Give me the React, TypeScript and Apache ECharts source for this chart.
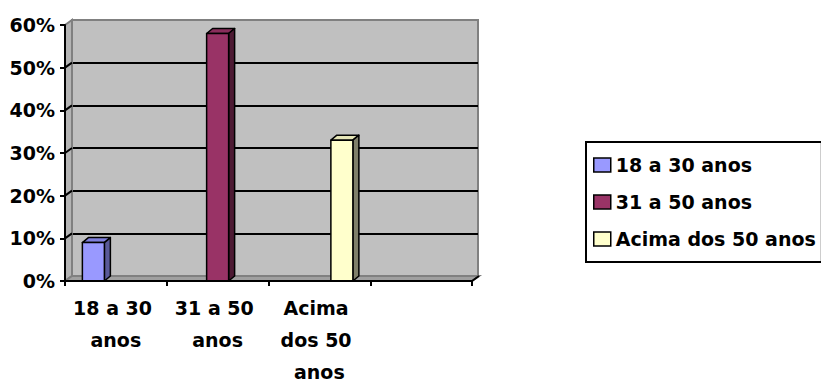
import React, { useEffect, useRef } from "react";
import * as echarts from "echarts";

const categories = ["18 a 30 anos", "31 a 50 anos", "Acima dos 50 anos", ""];
const seriesNames = ["18 a 30 anos", "31 a 50 anos", "Acima dos 50 anos"];
const seriesValues = [0.09, 0.58, 0.33];
const frontColors = ["#9999FF", "#993366", "#FFFFCC"];
const topColors = ["#8080DD", "#8A2E5C", "#E6E6B8"];
const sideColors = ["#5A5A99", "#4D1A33", "#80806A"];
const yTicks = [0, 0.1, 0.2, 0.3, 0.4, 0.5, 0.6];

const FONT = "DejaVu Sans";
const BAR_W = 22;
const BAR_STEP = 22.5;
const BDX = 6;
const BDY = -5;
const WDX = 7;
const WDY = -5;

export default function App() {
  const ref = useRef<HTMLDivElement>(null);
  useEffect(() => {
    if (!ref.current) return;
    const chart = echarts.init(ref.current, null, { renderer: "svg" });

    const barSeries = seriesNames.map((name, si) => ({
      type: "custom",
      name,
      xAxisIndex: 1,
      yAxisIndex: 1,
      z: 5,
      itemStyle: { color: frontColors[si], borderColor: "#000", borderWidth: 1.5 },
      encode: { x: 0, y: 1 },
      data: [[si, seriesValues[si]]],
      renderItem: (params: any, api: any) => {
        const cat = api.value(0);
        const v = api.value(1);
        const top = api.coord([cat, v]);
        const base = api.coord([cat, 0]);
        const cx = top[0] + (si - 1) * BAR_STEP;
        const x0 = cx - BAR_W / 2;
        const x1 = cx + BAR_W / 2;
        const yT = top[1];
        const yB = base[1];
        const stroke = { stroke: "#000", lineWidth: 1.5, lineJoin: "round" };
        return {
          type: "group",
          children: [
            {
              type: "polygon",
              shape: { points: [[x0, yT], [x1, yT], [x1 + BDX, yT + BDY], [x0 + BDX, yT + BDY]] },
              style: { fill: topColors[si], ...stroke },
            },
            {
              type: "polygon",
              shape: { points: [[x1, yT], [x1 + BDX, yT + BDY], [x1 + BDX, yB + BDY], [x1, yB]] },
              style: { fill: sideColors[si], ...stroke },
            },
            {
              type: "rect",
              shape: { x: x0, y: yT, width: BAR_W, height: yB - yT },
              style: { fill: frontColors[si], ...stroke },
            },
          ],
        };
      },
    }));

    const wallSeries = {
      type: "custom",
      name: "walls",
      xAxisIndex: 1,
      yAxisIndex: 1,
      z: 1,
      silent: true,
      encode: { y: 0 },
      data: yTicks.map((t) => [t]),
      renderItem: (params: any, api: any) => {
        const cs = params.coordSys;
        const idx = params.dataIndex;
        const v = api.value(0);
        const y = api.coord([0, v])[1];
        const left = cs.x;
        const right = cs.x + cs.width;
        const topY = cs.y;
        const botY = cs.y + cs.height;
        if (idx === 0) {
          return {
            type: "group",
            children: [
              {
                type: "polygon",
                shape: { points: [[left, topY], [left + WDX, topY + WDY], [left + WDX, botY + WDY], [left, botY]] },
                style: { fill: "#B4B4B4", stroke: "#808080", lineWidth: 2 },
              },
              {
                type: "polygon",
                shape: { points: [[left, botY], [right, botY], [right + WDX, botY + WDY], [left + WDX, botY + WDY]] },
                style: { fill: "#A0A0A0", stroke: "#808080", lineWidth: 2 },
              },
              {
                type: "line",
                shape: { x1: right, y1: botY, x2: right + WDX, y2: botY + WDY },
                style: { stroke: "#000", lineWidth: 2 },
              },
            ],
          };
        }
        if (idx === yTicks.length - 1) return null;
        return {
          type: "line",
          shape: { x1: left, y1: y, x2: left + WDX, y2: y + WDY },
          style: { stroke: "#000", lineWidth: 2 },
        };
      },
    };

    const labelStyle = {
      color: "#000",
      fontFamily: FONT,
      fontSize: 19,
      fontWeight: "bold",
    };

    chart.setOption({
      animation: false,
      backgroundColor: "#fff",
      grid: [
        {
          left: 72,
          top: 20,
          width: 406,
          height: 256,
          show: true,
          backgroundColor: "#C0C0C0",
          borderColor: "#808080",
          borderWidth: 2,
          z: 0,
          containLabel: false,
          outerBoundsMode: "none",
        },
        {
          left: 65,
          top: 25,
          width: 407,
          height: 256,
          z: 0,
          containLabel: false,
          outerBoundsMode: "none",
        },
      ],
      xAxis: [
        { type: "category", gridIndex: 0, data: categories, show: false },
        {
          type: "category",
          gridIndex: 1,
          data: categories,
          z: 10,
          axisLine: { lineStyle: { color: "#000", width: 2 } },
          axisTick: { show: true, length: 5, interval: 0, lineStyle: { color: "#000", width: 2 } },
          axisLabel: {
            ...labelStyle,
            interval: 0,
            margin: 11,
            lineHeight: 32,
            width: 86,
            overflow: "break",
          },
          splitLine: { show: false },
        },
      ],
      yAxis: [
        {
          type: "value",
          gridIndex: 0,
          min: 0,
          max: 0.6,
          interval: 0.1,
          axisLine: { show: false },
          axisTick: { show: false },
          axisLabel: { show: false },
          splitLine: {
            show: true,
            showMinLine: false,
            showMaxLine: false,
            lineStyle: { color: "#000", width: 2 },
          },
        },
        {
          type: "value",
          gridIndex: 1,
          min: 0,
          max: 0.6,
          interval: 0.1,
          z: 10,
          axisLine: { show: true, lineStyle: { color: "#000", width: 2 } },
          axisTick: { show: true, length: 5, lineStyle: { color: "#000", width: 2 } },
          axisLabel: {
            ...labelStyle,
            margin: 10,
            formatter: (v: number) => Math.round(v * 100) + "%",
          },
          splitLine: { show: false },
        },
      ],
      legend: {
        data: seriesNames,
        orient: "vertical",
        left: 586,
        top: 142,
        borderColor: "#000",
        borderWidth: 2,
        padding: [12, 6, 12, 7],
        itemGap: 15,
        itemWidth: 17,
        itemHeight: 14,
        icon: "rect",
        itemStyle: { borderColor: "#000", borderWidth: 1.5 },
        textStyle: { ...labelStyle, lineHeight: 22 },
      },
      series: [wallSeries, ...barSeries],
    });

    return () => chart.dispose();
  }, []);

  return (
    <div
      ref={ref}
      style={{ position: "absolute", left: 0, top: 0, width: 821, height: 388 }}
    />
  );
}
